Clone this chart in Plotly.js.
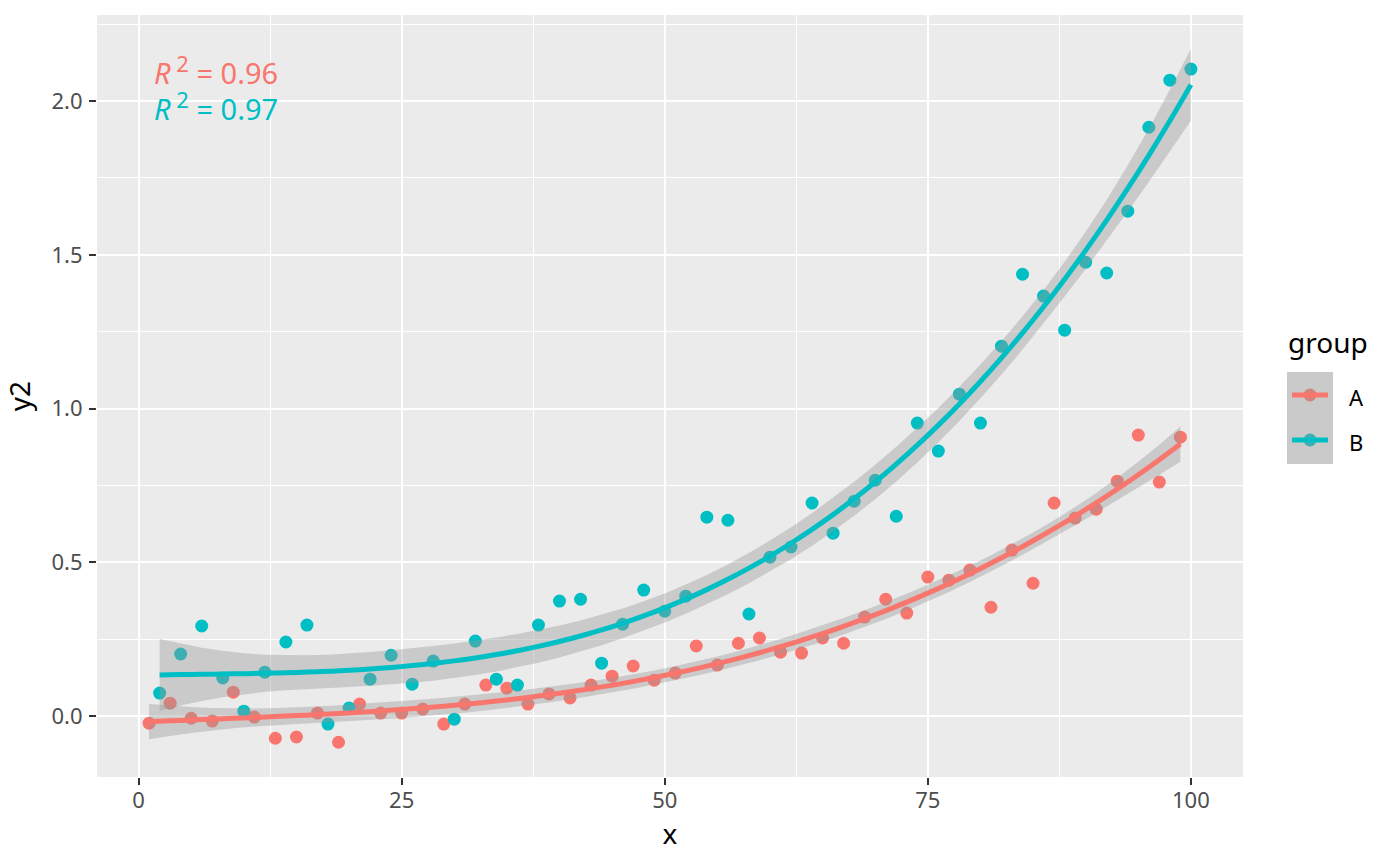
<!DOCTYPE html>
<html>
<head>
<meta charset="utf-8">
<script src="https://cdn.plot.ly/plotly-3.0.1.min.js"></script>
<style>
  html, body { margin: 0; padding: 0; background: #ffffff; }
  #chart { width: 1400px; height: 866px; }
</style>
</head>
<body>
<div id="chart"></div>
<script>
// values
var xA = [1, 3, 5, 7, 9, 11, 13, 15, 17, 19, 21, 23, 25, 27, 29, 31, 33, 35, 37, 39,
          41, 43, 45, 47, 49, 51, 53, 55, 57, 59, 61, 63, 65, 67, 69, 71, 73, 75, 77, 79,
          81, 83, 85, 87, 89, 91, 93, 95, 97, 99];
var yA = [-0.023, 0.042, -0.007, -0.016, 0.078, -0.003, -0.072, -0.068, 0.010, -0.085,
          0.039, 0.010, 0.010, 0.023, -0.026, 0.039, 0.101, 0.091, 0.039, 0.072,
          0.059, 0.101, 0.130, 0.163, 0.117, 0.140, 0.228, 0.166, 0.237, 0.254,
          0.208, 0.205, 0.254, 0.237, 0.322, 0.380, 0.335, 0.452, 0.442, 0.475,
          0.354, 0.540, 0.432, 0.693, 0.644, 0.673, 0.764, 0.914, 0.761, 0.907];
var xB = [2, 4, 6, 8, 10, 12, 14, 16, 18, 20, 22, 24, 26, 28, 30, 32, 34, 36, 38, 40,
          42, 44, 46, 48, 50, 52, 54, 56, 58, 60, 62, 64, 66, 68, 70, 72, 74, 76, 78, 80,
          82, 84, 86, 88, 90, 92, 94, 96, 98, 100];
var yB = [0.075, 0.202, 0.293, 0.124, 0.016, 0.143, 0.241, 0.296, -0.026, 0.026,
          0.120, 0.198, 0.104, 0.179, -0.010, 0.244, 0.120, 0.101, 0.296, 0.374,
          0.380, 0.172, 0.299, 0.410, 0.341, 0.390, 0.647, 0.637, 0.332, 0.517,
          0.550, 0.693, 0.595, 0.699, 0.767, 0.650, 0.953, 0.862, 1.047, 0.953,
          1.203, 1.437, 1.366, 1.255, 1.476, 1.441, 1.642, 1.915, 2.068, 2.104];

var groups = ['A', 'B'];
var groupColors = ['#F8766D', '#00BFC4'];
var r2Labels = ['0.96', '0.97'];
var xTicks = [0, 25, 50, 75, 100];
var yTicks = [0, 0.5, 1.0, 1.5, 2.0];

var FONT = 'Noto Sans, Open Sans, sans-serif';

// plot panel in pixels (used for the hand-made legend and labels)
var PANEL = {l: 97, r: 1243, t: 15, b: 777};
function px(x) { return (x - PANEL.l) / (PANEL.r - PANEL.l); }
function py(y) { return (PANEL.b - y) / (PANEL.b - PANEL.t); }

// cubic least squares fit with 95% confidence band, like geom_smooth(method = lm, formula = y ~ poly(x, 3))
function polyFit(xs, ys, deg) {
  var p = deg + 1, n = xs.length;
  var A = [], b = [];
  for (var i = 0; i < p; i++) { A.push(new Array(p).fill(0)); b.push(0); }
  var rows = xs.map(function (x) {
    var u = x / 100, r = [];
    for (var k = 0; k < p; k++) r.push(Math.pow(u, k));
    return r;
  });
  for (var i = 0; i < n; i++) {
    for (var j = 0; j < p; j++) {
      b[j] += rows[i][j] * ys[i];
      for (var k = 0; k < p; k++) A[j][k] += rows[i][j] * rows[i][k];
    }
  }
  // invert A (Gauss-Jordan)
  var M = A.map(function (r, i) {
    var e = new Array(p).fill(0); e[i] = 1;
    return r.concat(e);
  });
  for (var c = 0; c < p; c++) {
    var piv = c;
    for (var r = c + 1; r < p; r++) if (Math.abs(M[r][c]) > Math.abs(M[piv][c])) piv = r;
    var tmp = M[c]; M[c] = M[piv]; M[piv] = tmp;
    var d = M[c][c];
    for (var k = 0; k < 2 * p; k++) M[c][k] /= d;
    for (var r = 0; r < p; r++) {
      if (r === c) continue;
      var f = M[r][c];
      for (var k = 0; k < 2 * p; k++) M[r][k] -= f * M[c][k];
    }
  }
  var inv = M.map(function (r) { return r.slice(p); });
  var beta = inv.map(function (r) {
    return r.reduce(function (s, v, k) { return s + v * b[k]; }, 0);
  });
  var rss = 0;
  for (var i = 0; i < n; i++) {
    var f = rows[i].reduce(function (s, v, k) { return s + v * beta[k]; }, 0);
    rss += (ys[i] - f) * (ys[i] - f);
  }
  return {beta: beta, inv: inv, s2: rss / (n - p), p: p};
}

function smoothAt(fit, xs) {
  var tq = 2.012896; // qt(0.975, 46)
  var out = {fit: [], lo: [], hi: []};
  xs.forEach(function (x) {
    var u = x / 100, v = [];
    for (var k = 0; k < fit.p; k++) v.push(Math.pow(u, k));
    var f = v.reduce(function (s, a, k) { return s + a * fit.beta[k]; }, 0);
    var q = 0;
    for (var j = 0; j < fit.p; j++)
      for (var k = 0; k < fit.p; k++) q += v[j] * fit.inv[j][k] * v[k];
    var se = Math.sqrt(fit.s2 * q);
    out.fit.push(f);
    out.lo.push(f - tq * se);
    out.hi.push(f + tq * se);
  });
  return out;
}

var xsAll = [xA, xB];
var ysAll = [yA, yB];

var traces = [];
// points first, smoothers on top (ggplot layer order)
for (var g = 0; g < groups.length; g++) {
  traces.push({
    x: xsAll[g], y: ysAll[g], type: 'scatter', mode: 'markers', name: groups[g],
    marker: {color: groupColors[g], size: 13, line: {width: 0}},
    showlegend: false, hoverinfo: 'x+y'
  });
}
for (var g = 0; g < groups.length; g++) {
  var fit = polyFit(xsAll[g], ysAll[g], 3);
  var sm = smoothAt(fit, xsAll[g]);
  var xr = xsAll[g].slice().reverse();
  traces.push({
    x: xsAll[g].concat(xr), y: sm.hi.concat(sm.lo.slice().reverse()),
    type: 'scatter', mode: 'lines', fill: 'toself',
    fillcolor: 'rgba(153,153,153,0.4)', line: {width: 0},
    showlegend: false, hoverinfo: 'skip'
  });
  traces.push({
    x: xsAll[g], y: sm.fit, type: 'scatter', mode: 'lines',
    line: {color: groupColors[g], width: 5, shape: 'spline'},
    showlegend: false, hoverinfo: 'skip'
  });
}

// legend drawn by hand to match the ggplot key boxes
var keyBox = {x0: 1287, x1: 1333, y0: 372, y1: 464};
var keyRows = [395, 440];
var shapes = [{
  type: 'rect', xref: 'paper', yref: 'paper', layer: 'above',
  x0: px(keyBox.x0), x1: px(keyBox.x1), y0: py(keyBox.y1), y1: py(keyBox.y0),
  fillcolor: '#EBEBEB', line: {width: 0}
}];
keyRows.forEach(function (yy, g) {
  shapes.push({
    type: 'circle', xref: 'paper', yref: 'paper', layer: 'above',
    x0: px(1303.5), x1: px(1316.5), y0: py(yy + 6.5), y1: py(yy - 6.5),
    fillcolor: groupColors[g], line: {width: 0}
  });
});
shapes.push({
  type: 'rect', xref: 'paper', yref: 'paper', layer: 'above',
  x0: px(keyBox.x0), x1: px(keyBox.x1), y0: py(keyBox.y1), y1: py(keyBox.y0),
  fillcolor: 'rgba(153,153,153,0.4)', line: {width: 0}
});
keyRows.forEach(function (yy, g) {
  shapes.push({
    type: 'line', xref: 'paper', yref: 'paper', layer: 'above',
    x0: px(1292), x1: px(1328), y0: py(yy), y1: py(yy),
    line: {color: groupColors[g], width: 5}
  });
});

var annotations = [{
  text: 'group', xref: 'paper', yref: 'paper', x: px(1286), y: py(342),
  xanchor: 'left', yanchor: 'middle', showarrow: false,
  font: {family: FONT, size: 28, color: '#000000'}
}];
keyRows.forEach(function (yy, g) {
  annotations.push({
    text: groups[g], xref: 'paper', yref: 'paper', x: px(1347), y: py(yy + 2),
    xanchor: 'left', yanchor: 'middle', showarrow: false,
    font: {family: FONT, size: 22, color: '#000000'}
  });
});
[70, 106].forEach(function (yy, g) {
  annotations.push({
    text: '<i>R</i><sup><span style="font-size:22px"> 2</span></sup> = ' + r2Labels[g],
    xref: 'paper', yref: 'paper',
    x: px(152), y: py(yy), xanchor: 'left', yanchor: 'middle', showarrow: false,
    font: {family: FONT, size: 29, color: groupColors[g]}
  });
});

var layout = {
  width: 1400, height: 866,
  paper_bgcolor: '#FFFFFF', plot_bgcolor: '#EBEBEB',
  margin: {l: PANEL.l, r: 1400 - PANEL.r, t: PANEL.t, b: 866 - PANEL.b, pad: 0},
  showlegend: false,
  font: {family: FONT, color: '#4D4D4D'},
  xaxis: {
    range: [-3.95, 104.95], tickvals: xTicks, ticks: 'outside', ticklen: 7, tickwidth: 2,
    tickcolor: '#333333', ticklabelstandoff: -3,
    tickfont: {family: FONT, size: 22, color: '#4D4D4D'},
    showgrid: true, gridcolor: '#FFFFFF', gridwidth: 2, zeroline: false, showline: false,
    minor: {dtick: 12.5, tick0: 0, showgrid: true, gridcolor: '#FFFFFF', gridwidth: 1},
    title: {text: 'x', standoff: 4, font: {family: FONT, size: 28, color: '#000000'}},
    automargin: false
  },
  yaxis: {
    range: [-0.198, 2.28], tickvals: yTicks, tickformat: '.1f', ticks: 'outside', ticklen: 7,
    tickwidth: 2, tickcolor: '#333333', ticklabelstandoff: 2,
    tickfont: {family: FONT, size: 22, color: '#4D4D4D'},
    showgrid: true, gridcolor: '#FFFFFF', gridwidth: 2, zeroline: false, showline: false,
    minor: {dtick: 0.25, tick0: 0, showgrid: true, gridcolor: '#FFFFFF', gridwidth: 1},
    title: {text: 'y2', standoff: 12, font: {family: FONT, size: 28, color: '#000000'}},
    automargin: false
  },
  shapes: shapes,
  annotations: annotations
};

Plotly.newPlot('chart', traces, layout, {displayModeBar: false, staticPlot: true});
</script>
</body>
</html>
